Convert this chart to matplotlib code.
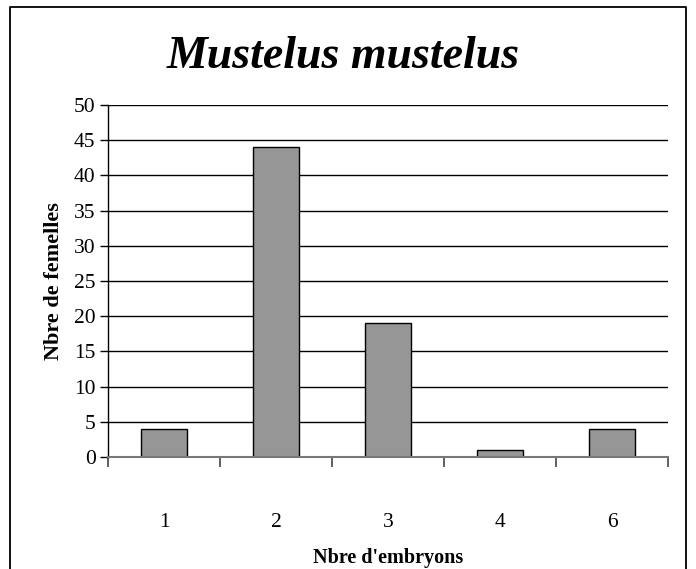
import matplotlib
matplotlib.use("Agg")
import matplotlib.pyplot as plt
from matplotlib.lines import Line2D

# data
categories = ["1", "2", "3", "4", "6"]
n_females = [4, 44, 19, 1, 4]
y_ticks = list(range(0, 55, 5))

plt.rcParams["font.family"] = ["Liberation Serif", "DejaVu Serif"]

fig = plt.figure(figsize=(6.96, 5.69), dpi=100)
ax = fig.add_axes([108 / 696, 1 - 457 / 569, (668 - 108) / 696, (457 - 105) / 569])

x = list(range(len(categories)))
ax.bar(x, n_females, width=0.41, color="#969696", edgecolor="black", linewidth=1.0, zorder=3)

ax.set_xlim(-0.5, len(categories) - 0.5)
ax.set_ylim(0, 50)
ax.set_yticks(y_ticks)
ax.set_yticklabels([str(v) for v in y_ticks], fontsize=15.5)
ax.grid(axis="y", color="black", linewidth=1.0, zorder=0)
ax.set_axisbelow(True)

ax.set_xticks(x)
ax.set_xticklabels(categories, fontsize=15.5)
ax.set_xticks([i + 0.5 for i in range(-1, len(categories))], minor=True)
ax.tick_params(axis="x", which="major", length=0, pad=40)
ax.tick_params(axis="x", which="minor", length=7, width=1.2, color="#444444", direction="out")
ax.tick_params(axis="y", length=6, width=1.0, direction="out", pad=3)

for side in ("top", "right"):
    ax.spines[side].set_visible(False)
ax.spines["left"].set_linewidth(1.0)
ax.spines["bottom"].set_color("#777777")
ax.spines["bottom"].set_linewidth(1.5)
ax.spines["bottom"].set_zorder(4)

ax.set_ylabel("Nbre de femelles", fontsize=16, fontweight="bold", labelpad=7)
ax.set_xlabel("Nbre d'embryons", fontsize=14.5, fontweight="bold", labelpad=12)

fig.text(343 / 696, 1 - 57 / 569, "Mustelus mustelus", ha="center", va="center",
         fontsize=33, fontweight="bold", fontstyle="italic")

# outer chart frame (bottom edge is cut off in the reference)
frame_x = [10 / 696, 10 / 696, 686 / 696, 686 / 696]
frame_y = [0, 1 - 7 / 569, 1 - 7 / 569, 0]
fig.add_artist(Line2D(frame_x, frame_y, transform=fig.transFigure, color="black", linewidth=1.3))

fig.savefig("out.png", dpi=100)
